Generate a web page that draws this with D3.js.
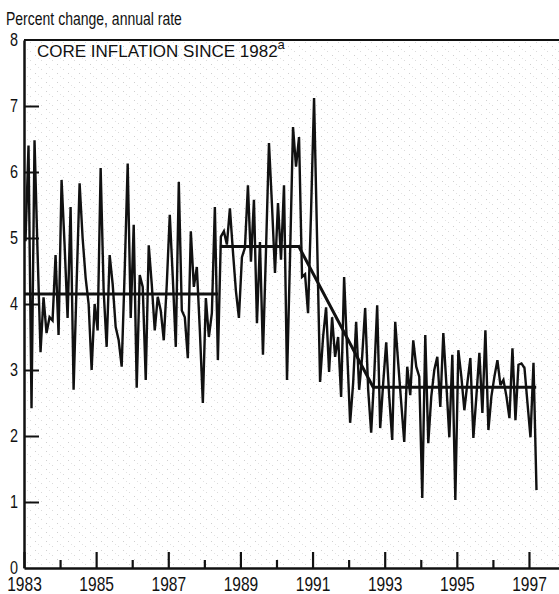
<!DOCTYPE html>
<meta charset="utf-8">
<style>
  body { margin: 0; background: #fff; }
  svg text { fill: #111; }
  .narrow { font-family: "Liberation Sans", Arial, sans-serif; }
  .axis path, .axis line { stroke: #111; }
</style>
<svg width="559" height="594" id="chart"></svg>
<script src="https://cdn.jsdelivr.net/npm/d3@7"></script>
<script>
// monthly core inflation, Jan 1983 .. Mar 1997 (percent change, annual rate)
var startYear = 1983;
var coreInflation = [
  4.95, 6.40, 2.42, 6.48, 4.80, 3.27, 4.10, 3.56, 3.80, 3.75, 4.74, 3.53,
  5.88, 4.90, 3.79, 5.47, 2.70, 4.30, 5.83, 5.00, 4.40, 4.00, 3.00, 4.00,
  3.60, 6.06, 4.20, 3.35, 4.74, 4.30, 3.65, 3.45, 3.05, 4.50, 6.13, 3.79,
  5.20, 2.73, 4.44, 4.26, 2.85, 4.89, 4.30, 3.60, 4.11, 3.90, 3.45, 4.30,
  5.35, 4.40, 3.35, 5.85, 3.90, 3.80, 3.18, 5.10, 4.26, 4.56, 3.60, 2.50,
  4.09, 3.50, 3.86, 5.47, 3.15, 5.02, 5.10, 4.90, 5.45, 4.80, 4.20, 3.79,
  4.71, 4.85, 5.80, 4.64, 5.58, 3.71, 4.94, 3.23, 4.80, 6.44, 5.50, 4.47,
  5.53, 4.67, 5.80, 2.85, 4.70, 6.68, 6.08, 6.53, 4.41, 4.45, 3.86, 5.40,
  7.12, 5.00, 2.82, 3.50, 3.95, 2.97, 3.80, 3.20, 3.50, 2.59, 4.41, 3.30,
  2.20, 2.80, 3.73, 2.70, 3.20, 3.94, 2.70, 2.05, 2.90, 3.98, 2.12, 2.80,
  3.42, 2.60, 1.94, 3.73, 3.10, 2.50, 1.91, 3.05, 2.62, 3.45, 3.05, 2.90,
  1.06, 3.53, 1.89, 2.60, 3.00, 3.20, 2.44, 3.56, 2.80, 1.98, 3.23, 1.03,
  3.30, 2.90, 2.39, 2.80, 3.18, 1.97, 2.60, 3.26, 2.35, 3.60, 2.09, 2.60,
  2.90, 3.15, 2.77, 2.85, 2.60, 2.27, 3.33, 2.24, 3.08, 3.10, 3.03, 2.50,
  1.98, 3.11, 1.18
];

// fitted trend (two flat regimes joined by a decline)
var trendEarly = [[1983.0, 4.15], [1988.38, 4.15]];
var trendLate = [[1988.43, 4.87], [1990.62, 4.87], [1992.68, 2.74], [1997.2, 2.74]];

var labelYears = [1983, 1985, 1987, 1989, 1991, 1993, 1995, 1997];
var minorYears = [1984, 1986, 1988, 1990, 1992, 1994, 1996];
var yTicks = [0, 1, 2, 3, 4, 5, 6, 7, 8];

var svg = d3.select("#chart");
var plotLeft = 24, plotTop = 40, plotBottom = 568, yearWidth = 36.07;

var x = d3.scaleLinear().domain([1983, 1998]).range([plotLeft, plotLeft + 15 * yearWidth]);
var y = d3.scaleLinear().domain([0, 8]).range([plotBottom, plotTop]);

// condensed look: squeeze Liberation Sans horizontally
function squeeze(sel, ratio) {
  sel.each(function() {
    var w = this.getComputedTextLength();
    d3.select(this).attr("textLength", w * ratio).attr("lengthAdjust", "spacingAndGlyphs");
  });
}

// speckled paper background of the plot area
var defs = svg.append("defs");
var pat = defs.append("pattern").attr("id", "speck")
  .attr("width", 11).attr("height", 9).attr("patternUnits", "userSpaceOnUse");
pat.append("rect").attr("x", 2).attr("y", 1).attr("width", 1).attr("height", 1).attr("fill", "#cfcfcf");
pat.append("rect").attr("x", 8).attr("y", 6).attr("width", 1).attr("height", 1).attr("fill", "#dadada");
pat.append("rect").attr("x", 5).attr("y", 4).attr("width", 1).attr("height", 1).attr("fill", "#e2e2e2");
svg.append("rect")
  .attr("x", plotLeft).attr("y", plotTop)
  .attr("width", 559 - plotLeft).attr("height", plotBottom - plotTop)
  .attr("fill", "url(#speck)");

svg.append("text")
  .attr("class", "narrow")
  .attr("x", 6).attr("y", 25)
  .style("font-size", "17.5px")
  .text("Percent change, annual rate")
  .call(squeeze, 0.8);

// top frame line
svg.append("line")
  .attr("x1", plotLeft).attr("x2", 559)
  .attr("y1", y(8)).attr("y2", y(8))
  .attr("stroke", "#111").attr("stroke-width", 2);

var yAxis = d3.axisLeft(y).tickValues(yTicks).tickSize(-15).tickSizeOuter(0).tickPadding(6);
svg.append("g")
  .attr("class", "axis narrow")
  .attr("transform", "translate(" + plotLeft + ",0)")
  .call(yAxis)
  .call(function(g) {
    g.select(".domain").attr("stroke-width", 2.5);
    g.selectAll("line").attr("stroke-width", 2);
    g.selectAll("text").style("font-size", "18px").attr("fill", "#111").call(squeeze, 0.8);
    g.selectAll(".tick").filter(function(d) { return d === 0 || d === 8; }).select("line").remove();
  });

var xAxis = d3.axisBottom(x).tickValues(labelYears).tickSize(-16).tickSizeOuter(0)
  .tickPadding(8).tickFormat(d3.format("d"));
svg.append("g")
  .attr("class", "axis narrow")
  .attr("transform", "translate(0," + plotBottom + ")")
  .call(xAxis)
  .call(function(g) {
    g.select(".domain").attr("stroke-width", 2.5);
    g.selectAll("line").attr("stroke-width", 2.2);
    g.selectAll("text").style("font-size", "21px").attr("fill", "#111").call(squeeze, 0.74);
  });

var xMinor = d3.axisBottom(x).tickValues(minorYears).tickSize(-8).tickSizeOuter(0).tickFormat("");
svg.append("g")
  .attr("class", "axis")
  .attr("transform", "translate(0," + plotBottom + ")")
  .call(xMinor)
  .call(function(g) {
    g.select(".domain").remove();
    g.selectAll("line").attr("stroke-width", 2.2);
  });

// title inside the frame
var title = svg.append("text")
  .attr("x", 37).attr("y", 57)
  .style("font-family", "'Liberation Sans', Arial, sans-serif")
  .style("font-size", "17px")
  .text("CORE INFLATION SINCE 1982");
title.append("tspan")
  .attr("dy", -8)
  .style("font-size", "13px")
  .text("a");

var series = coreInflation.map(function(v, i) {
  return { t: startYear + (i + 0.5) / 12, v: v };
});

var line = d3.line()
  .x(function(d) { return x(d.t); })
  .y(function(d) { return y(d.v); });

svg.append("path")
  .datum(series)
  .attr("fill", "none")
  .attr("stroke", "#111")
  .attr("stroke-width", 2.4)
  .attr("stroke-miterlimit", 3)
  .attr("d", line);

var trendLine = d3.line()
  .x(function(d) { return x(d[0]); })
  .y(function(d) { return y(d[1]); });

[trendEarly, trendLate].forEach(function(seg) {
  svg.append("path")
    .datum(seg)
    .attr("fill", "none")
    .attr("stroke", "#111")
    .attr("stroke-width", 3)
    .attr("d", trendLine);
});
</script>
